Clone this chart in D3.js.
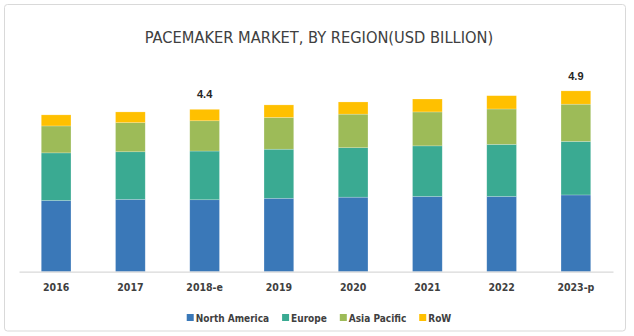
<!DOCTYPE html>
<html>
<head>
<meta charset="utf-8">
<script src="https://cdn.jsdelivr.net/npm/d3@7"></script>
<style>
  html, body { margin: 0; padding: 0; background: #fff; }
  svg { display: block; font-family: "Liberation Sans Narrow", "DejaVu Sans Condensed", "Roboto", sans-serif; }
</style>
</head>
<body>
<svg id="chart" width="634" height="336"></svg>
<script>
// Pacemaker market by region, USD billion
const years = ["2016", "2017", "2018-e", "2019", "2020", "2021", "2022", "2023-p"];
const regions = ["North America", "Europe", "Asia Pacific", "RoW"];
const northAmerica = [1.93, 1.96, 1.95, 1.99, 2.02, 2.04, 2.04, 2.08];
const europe       = [1.29, 1.29, 1.32, 1.33, 1.34, 1.37, 1.41, 1.45];
const asiaPacific  = [0.73, 0.79, 0.82, 0.86, 0.91, 0.92, 0.96, 1.01];
const row          = [0.30, 0.29, 0.31, 0.34, 0.33, 0.35, 0.36, 0.36];
const totalLabels  = { "2018-e": "4.4", "2023-p": "4.9" };
const colors = ["#3a78b8", "#3aaa92", "#9dbb58", "#ffc000"];

const table = years.map((y, i) => ({
  year: y,
  "North America": northAmerica[i],
  "Europe": europe[i],
  "Asia Pacific": asiaPacific[i],
  "RoW": row[i]
}));

const font = "'Liberation Sans Narrow', 'DejaVu Sans Condensed', sans-serif";
const svg = d3.select("#chart");

// outer frame
svg.append("rect")
  .attr("x", 4.5).attr("y", 4.5).attr("width", 621).attr("height", 326.5)
  .attr("rx", 3).attr("fill", "#fff").attr("stroke", "#d9d9d9").attr("stroke-width", 1);

svg.append("text")
  .attr("x", 319).attr("y", 43)
  .attr("text-anchor", "middle")
  .attr("font-size", 16.3).attr("fill", "#404040")
  .attr("font-family", font)
  .text("PACEMAKER MARKET, BY REGION(USD BILLION)");

const x = d3.scaleBand().domain(years).range([19, 613]).paddingInner(0.6).paddingOuter(0.3);
const y = d3.scaleLinear().domain([0, 5]).range([271.7, 87.2]);
const color = d3.scaleOrdinal().domain(regions).range(colors);

const stacked = d3.stack().keys(regions)(table);

svg.append("g").selectAll("g")
  .data(stacked).join("g")
  .attr("fill", d => color(d.key))
  .selectAll("rect")
  .data(d => d).join("rect")
  .attr("x", d => x(d.data.year))
  .attr("width", x.bandwidth())
  .attr("y", d => y(d[1]))
  .attr("height", d => y(d[0]) - y(d[1]))
  .attr("stroke", "rgba(255,255,255,0.35)")
  .attr("stroke-width", 0.6);

// category axis
const xAxis = svg.append("g")
  .attr("transform", `translate(0,${y(0)})`)
  .call(d3.axisBottom(x).tickSize(0).tickPadding(12));
xAxis.select(".domain").attr("stroke", "#d9d9d9").attr("stroke-width", 1.2);
xAxis.selectAll("text")
  .attr("font-size", 10.5).attr("font-weight", "bold").attr("fill", "#404040")
  .attr("font-family", font);

// total labels
svg.append("g").selectAll("text")
  .data(stacked[stacked.length - 1].filter(d => totalLabels[d.data.year]))
  .join("text")
  .attr("x", d => x(d.data.year) + x.bandwidth() / 2)
  .attr("y", d => y(d[1]) - 11)
  .attr("text-anchor", "middle")
  .attr("font-size", 11).attr("font-weight", "bold").attr("fill", "#262626")
  .attr("font-family", "'Liberation Sans', Arial, sans-serif")
  .text(d => totalLabels[d.data.year]);

// legend
const legend = svg.append("g").attr("transform", "translate(0,318)");
const items = legend.selectAll("g").data(regions).join("g");
items.append("rect").attr("width", 7).attr("height", 7).attr("y", -4).attr("fill", d => color(d));
items.append("text")
  .attr("x", 9).attr("y", 0).attr("dy", "0.35em")
  .attr("font-size", 10).attr("font-weight", "bold").attr("fill", "#404040")
  .attr("font-family", font)
  .text(d => d);
const gap = 13;
let cursor = 0;
const offsets = [];
items.each(function() {
  const w = d3.select(this).select("text").node().getComputedTextLength() + 9;
  offsets.push(cursor);
  cursor += w + gap;
});
const totalW = cursor - gap;
const start = 319 - totalW / 2;
items.attr("transform", (d, i) => `translate(${start + offsets[i]},0)`);
</script>
</body>
</html>
